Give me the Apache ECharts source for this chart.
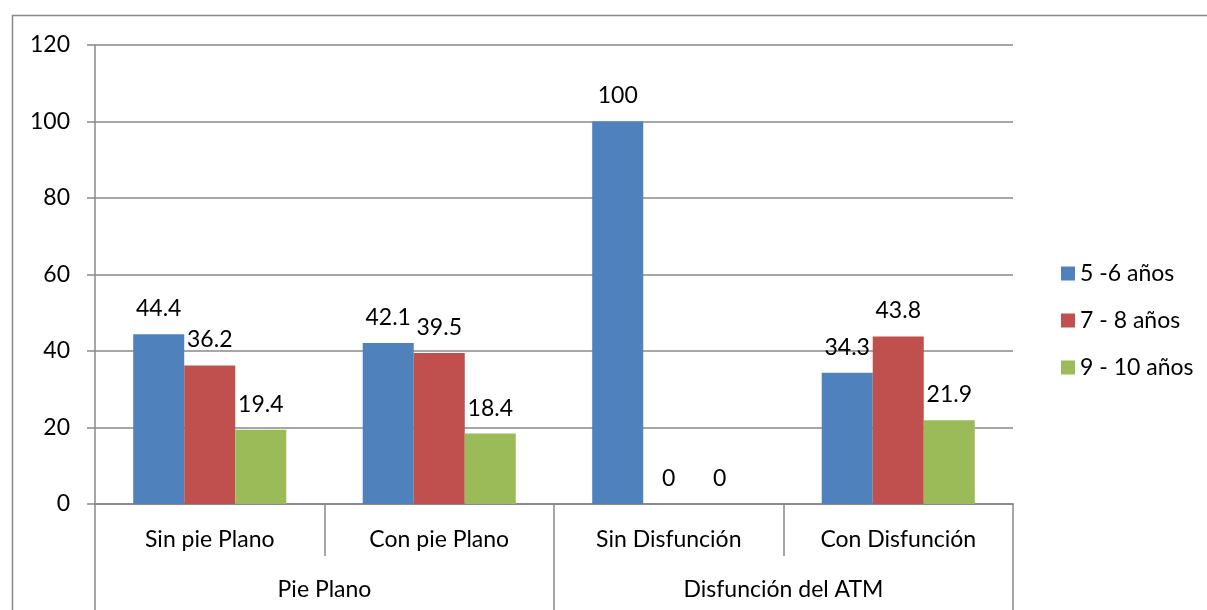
<!DOCTYPE html>
<html>
<head>
<meta charset="utf-8">
<script src="https://cdn.jsdelivr.net/npm/echarts@6/dist/echarts.min.js"></script>
<style>
  html, body { margin: 0; padding: 0; background: #fff; }
  #chart { width: 1207px; height: 610px; }
</style>
</head>
<body>
<div id="chart"></div>
<script>
// Subcategories (first axis level) and their groups (second axis level)
const categories = ['Sin pie Plano', 'Con pie Plano', 'Sin Disfunción', 'Con Disfunción'];
const groups = ['Pie Plano', 'Disfunción del ATM'];

// Percentages per age band
const seriesNames = ['5 -6 años', '7 - 8 años', '9 - 10 años'];
const age5to6 = [44.4, 42.1, 100, 34.3];
const age7to8 = [36.2, 39.5, 0, 43.8];
const age9to10 = [19.4, 18.4, 0, 21.9];

const yTicks = { min: 0, max: 120, interval: 20 };

const colors = ['#4F81BD', '#C0504D', '#9BBB59'];
const FONT = 'Lato, "Liberation Sans", sans-serif';
const FS = 23;
const axisGray = '#898989';

const chart = echarts.init(document.getElementById('chart'), null, { renderer: 'canvas' });

const makeSeries = (name, data, i) => ({
  name,
  type: 'bar',
  data,
  xAxisIndex: 0,
  barGap: '0%',
  barCategoryGap: '33.3%',
  itemStyle: { color: colors[i] },
  label: {
    show: true,
    position: 'top',
    distance: 14,
    color: '#000',
    fontFamily: FONT,
    fontSize: FS,
    formatter: (p) => String(p.value)
  }
});

chart.setOption({
  animation: false,
  textStyle: { fontFamily: FONT },
  graphic: [{
    type: 'rect',
    shape: { x: 12.5, y: 15.5, width: 1400, height: 800 },
    style: { fill: 'none', stroke: axisGray, lineWidth: 1.5 },
    silent: true,
    z: -1
  }],
  grid: { left: 95, right: 194, top: 45, bottom: 106, containLabel: false },
  legend: {
    orient: 'vertical',
    left: 1056,
    top: 257,
    icon: 'rect',
    itemWidth: 14,
    itemHeight: 14,
    itemGap: 24,
    textStyle: { fontFamily: FONT, fontSize: FS, color: '#000', lineHeight: 23 },
    data: seriesNames
  },
  xAxis: [
    {
      type: 'category',
      data: categories,
      position: 'bottom',
      axisLine: { show: true, lineStyle: { color: axisGray, width: 1.5 } },
      axisTick: { show: true, length: 52, lineStyle: { color: axisGray, width: 1.5 } },
      axisLabel: { margin: 24, color: '#000', fontFamily: FONT, fontSize: FS }
    },
    {
      type: 'category',
      data: groups,
      position: 'bottom',
      axisLine: { show: true, lineStyle: { color: axisGray, width: 1.5 } },
      axisTick: { show: true, length: 110, lineStyle: { color: axisGray, width: 1.5 } },
      axisLabel: { margin: 74, color: '#000', fontFamily: FONT, fontSize: FS }
    }
  ],
  yAxis: {
    type: 'value',
    min: yTicks.min,
    max: yTicks.max,
    interval: yTicks.interval,
    axisLine: { show: true, lineStyle: { color: axisGray, width: 1.5 } },
    axisTick: { show: true, length: 8, lineStyle: { color: axisGray, width: 1.5 } },
    axisLabel: { margin: 25, color: '#000', fontFamily: FONT, fontSize: FS },
    splitLine: { show: true, lineStyle: { color: axisGray, width: 1.5 } }
  },
  series: [
    makeSeries(seriesNames[0], age5to6, 0),
    makeSeries(seriesNames[1], age7to8, 1),
    makeSeries(seriesNames[2], age9to10, 2)
  ]
});
</script>
</body>
</html>
